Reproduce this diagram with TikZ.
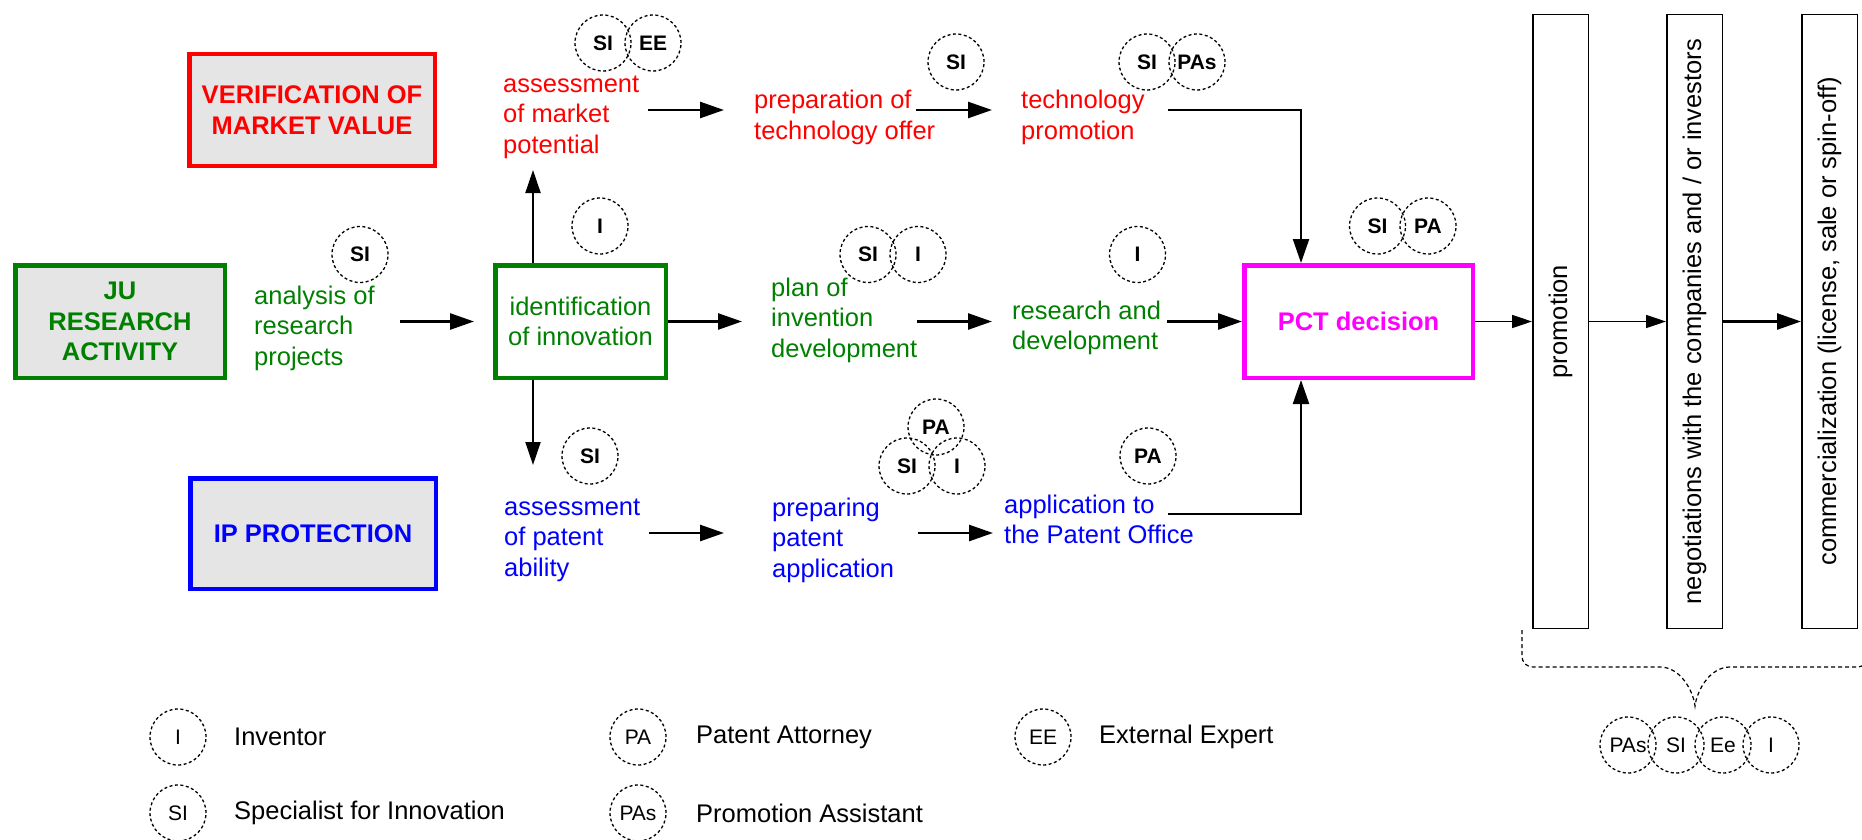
\documentclass[tikz,border=0pt]{standalone}
\usepackage{fontspec}
\setmainfont{Liberation Sans}
\usetikzlibrary{arrows.meta}

\definecolor{boxgray}{RGB}{229,229,229}
\definecolor{dkgreen}{RGB}{0,128,0}
\definecolor{pctpink}{RGB}{255,0,255}

\newcommand\fmain{\fontsize{25.5}{30.5}\selectfont}
\newcommand\fwho{\fontsize{21}{21}\selectfont}

\begin{document}
\begin{tikzpicture}[x=1pt,y=-1pt,
  stage/.style={draw, line width=4.5pt, font=\fmain\bfseries, align=center, inner sep=2pt},
  txt/.style={font=\fmain, align=left, inner sep=0pt, anchor=west},
  tallbox/.style={draw, line width=1.5pt, minimum width=55.5pt, minimum height=613.5pt, inner sep=0pt},
  talltxt/.style={font=\fmain, rotate=90, inner sep=0pt},
  who/.style={circle, draw, line width=1.3pt, dash pattern=on 3pt off 2.5pt,
              minimum size=56pt, inner sep=0pt, font=\fwho\bfseries},
  whol/.style={who, font=\fwho},
  lgtxt/.style={font=\fmain, inner sep=0pt, anchor=west},
  flow/.style={line width=2.6pt, -{Triangle[length=24pt,width=16pt]}},
  vflow/.style={line width=2pt, -{Triangle[length=23pt,width=15pt]}},
  thinflow/.style={line width=1.5pt, -{Triangle[length=20pt,width=13pt]}},
  bracepath/.style={line width=1.2pt, dash pattern=on 4pt off 3pt}
]
\useasboundingbox (0,0) rectangle (1862,840);

% stage boxes
\node[stage, draw=red, fill=boxgray, text=red, minimum width=245.5pt, minimum height=111.5pt]
  (vmv) at (312,110) {VERIFICATION OF\\MARKET VALUE};
\node[stage, draw=dkgreen, fill=boxgray, text=dkgreen, minimum width=209.5pt, minimum height=112.5pt]
  (ju) at (120,321.5) {JU\\RESEARCH\\ACTIVITY};
\node[stage, draw=blue, fill=boxgray, text=blue, minimum width=245.5pt, minimum height=110.5pt]
  (ipp) at (313,533.5) {IP PROTECTION};
\node[stage, draw=dkgreen, fill=white, text=dkgreen, font=\fmain, minimum width=170.5pt, minimum height=112.5pt]
  (idn) at (580.5,321.5) {identification\\of innovation};
\node[stage, draw=pctpink, fill=white, text=pctpink, minimum width=228.5pt, minimum height=112.5pt]
  (pct) at (1358.5,321.5) {PCT decision};

% commercialisation stages
\node[tallbox] (prom) at (1560.5,321.5) {};
\node[talltxt] (promT) at (prom) {promotion};
\node[tallbox] (neg) at (1694.5,321.5) {};
\node[talltxt] (negT) at (neg) {negotiations with the companies and / or investors};
\node[tallbox] (comm) at (1829.5,321.5) {};
\node[talltxt] (commT) at (comm) {commercialization (license, sale or spin-off)};

% activities
\node[txt, text=red] (amp) at (503,117) {assessment\\of market\\potential};
\node[txt, text=red] (pto) at (754,117.5) {preparation of\\technology offer};
\node[txt, text=red] (tpr) at (1021,117.5) {technology\\promotion};
\node[txt, text=dkgreen] (arp) at (254,328) {analysis of\\research\\projects};
\node[txt, text=dkgreen] (pid) at (771,320) {plan of\\invention\\development};
\node[txt, text=dkgreen] (rad) at (1012,328) {research and\\development};
\node[txt, text=blue] (apa) at (504,540) {assessment\\of patent\\ability};
\node[txt, text=blue] (ppa) at (772,540) {preparing\\patent\\application};
\node[txt, text=blue] (apo) at (1004,519.5) {application to\\the Patent Office};

% people involved
\node[who] (w1) at (603,43) {SI};
\node[who] (w2) at (653,43) {EE};
\node[who] (w3) at (956,62) {SI};
\node[who] (w4) at (1147,62) {SI};
\node[who] (w5) at (1197,62) {PAs};
\node[who] (w6) at (1377.5,226) {SI};
\node[who] (w7) at (1428,226) {PA};
\node[who] (w8) at (360,254.5) {SI};
\node[who] (w9) at (600,226) {I};
\node[who] (w10) at (868,254.5) {SI};
\node[who] (w11) at (918,254.5) {I};
\node[who] (w12) at (1137.5,254.5) {I};
\node[who] (w13) at (590,456) {SI};
\node[who] (w14) at (936,427) {PA};
\node[who] (w15) at (907,466) {SI};
\node[who] (w16) at (957,466) {I};
\node[who] (w17) at (1148,456) {PA};

% rows of the flow
\coordinate (rowT) at (0,110);
\coordinate (rowM) at (0,321.5);
\coordinate (rowB) at (0,533);
\coordinate (rowA) at (0,514);
\coordinate (upTip) at (533,170);
\coordinate (downTip) at (533,465);

% connectors
\draw[flow, shorten <=25pt, shorten >=19pt] (arp.east |- rowM) -- (idn.west |- rowM);
\draw[vflow] (idn.north -| upTip) -- (upTip);
\draw[vflow] (idn.south -| downTip) -- (downTip);
\draw[flow, shorten >=29pt] (idn.east) -- (pid.west |- idn.east);
\draw[flow, shorten >=20pt] (pid.east |- rowM) -- (rad.west |- rowM);
\draw[flow, shorten <=6pt] (rad.east |- rowM) -- (pct.west);

\draw[flow, shorten <=9pt, shorten >=30pt] (amp.east |- rowT) -- (pto.west |- rowT);
\draw[flow, shorten <=-19pt, shorten >=29pt] (pto.east |- rowT) -- (tpr.west |- rowT);
\draw[flow, line width=2.2pt, shorten <=23pt] (tpr.east |- rowT) -| ([xshift=59pt]pct.north west);

\draw[flow, shorten <=9pt, shorten >=48pt] (apa.east |- rowB) -- (ppa.west |- rowB);
\draw[flow, shorten <=24pt, shorten >=11pt] (ppa.east |- rowB) -- (apo.west |- rowB);
\draw[flow, line width=2.2pt, shorten <=-26pt] (apo.east |- rowA) -| ([xshift=59pt]pct.south west);

\draw[thinflow] (pct.east) -- (prom.west |- pct.east);
\draw[thinflow] (prom.east |- pct.east) -- (neg.west |- pct.east);
\draw[flow] (neg.east |- pct.east) -- (comm.west |- pct.east);

% brace under the commercialisation stages
\draw[bracepath] (1522,630) -- (1522,655) .. controls (1522,663) and (1526,667) .. (1534,667)
  -- (1660,667) .. controls (1680,667) and (1693,690) .. (1695,706)
  .. controls (1697,690) and (1710,667) .. (1730,667) -- (1856,667)
  .. controls (1864,667) and (1868,663) .. (1868,655);
\node[whol] (b1) at (1628,745) {PAs};
\node[whol] (b2) at (1676,745) {SI};
\node[whol] (b3) at (1723,745) {Ee};
\node[whol] (b4) at (1771,745) {I};

% legend
\node[whol] (lg1) at (178,737) {I};
\node[lgtxt] (lg1t) at (234,737) {Inventor};
\node[whol] (lg2) at (178,813) {SI};
\node[lgtxt] (lg2t) at (234,813) {Specialist for Innovation};
\node[whol] (lg3) at (638,737) {PA};
\node[lgtxt] (lg3t) at (696,737) {Patent Attorney};
\node[whol] (lg4) at (638,813) {PAs};
\node[lgtxt] (lg4t) at (696,813) {Promotion Assistant};
\node[whol] (lg5) at (1043,737) {EE};
\node[lgtxt] (lg5t) at (1099,737) {External Expert};
\end{tikzpicture}
\end{document}
